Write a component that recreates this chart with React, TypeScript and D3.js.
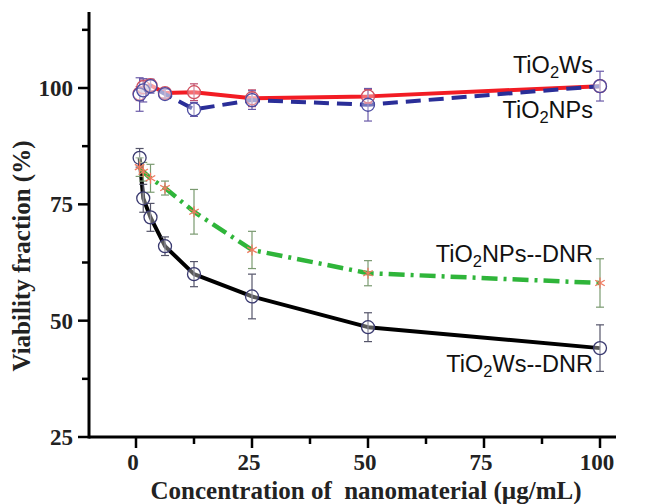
import React from "react";
import * as d3 from "d3";

const conc = [0.78, 1.56, 3.125, 6.25, 12.5, 25, 50, 100];

const wsVals = [98.8, 100.2, 100.6, 98.9, 99.1, 97.8, 98.2, 100.4];
const wsErr = [1.5, 1.5, 1.2, 1.0, 1.8, 1.8, 1.5, 1.2];

const npsVals = [98.6, 99.5, 100.4, 98.7, 95.4, 97.4, 96.4, 100.4];
const npsErr = [3.6, 2.5, 1.5, 1.0, 1.5, 2.0, 3.5, 3.2];

const npsDnrVals = [83.0, 82.0, 80.6, 78.5, 73.4, 65.2, 60.2, 58.1];
const npsDnrErr = [2.0, 2.0, 3.0, 1.5, 4.8, 4.0, 2.7, 5.2];

const wsDnrVals = [85.0, 76.3, 72.2, 66.0, 60.0, 55.2, 48.6, 44.1];
const wsDnrErr = [2.0, 3.0, 3.0, 2.0, 2.7, 4.8, 3.1, 5.0];

const xTicks = [0, 25, 50, 75, 100];
const xMinor = [12.5, 37.5, 62.5, 87.5];
const yTicks = [25, 50, 75, 100];
const yMinor = [37.5, 62.5, 87.5, 112.5];

const xTitle = "Concentration of  nanomaterial (\u00b5g/mL)";
const yTitle = "Viability fraction (%)";

export default function App() {
  const x = d3.scaleLinear().domain([0, 100]).range([136, 600]);
  const y = d3.scaleLinear().domain([25, 100]).range([437, 88]);
  const axisX0 = 89;
  const axisXEnd = 616;
  const axisYTop = 12;
  const axisY0 = 437;

  const line = d3
    .line<number>()
    .x((_, i) => x(conc[i]))
    .y((d) => y(d))
    .curve(d3.curveLinear);

  const serif = "'Liberation Serif', 'Times New Roman', serif";
  const sans = "'Liberation Sans', Arial, sans-serif";

  const errBars = (vals: number[], errs: number[], color: string, key: string) =>
    vals.map((v, i) => {
      const cx = x(conc[i]);
      const y1 = y(v - errs[i]);
      const y2 = y(v + errs[i]);
      return (
        <g key={key + i} stroke={color} strokeWidth={1.2}>
          <line x1={cx} x2={cx} y1={y1} y2={y2} />
          <line x1={cx - 4} x2={cx + 4} y1={y1} y2={y1} />
          <line x1={cx - 4} x2={cx + 4} y1={y2} y2={y2} />
        </g>
      );
    });

  const circles = (vals: number[], color: string, key: string) =>
    vals.map((v, i) => (
      <circle
        key={key + i}
        cx={x(conc[i])}
        cy={y(v)}
        r={6.5}
        fill="rgba(255,255,255,0.35)"
        stroke={color}
        strokeWidth={1.3}
      />
    ));

  const stars = (vals: number[], color: string, key: string) =>
    vals.map((v, i) => {
      const cx = x(conc[i]);
      const cy = y(v);
      const r = 5.5;
      return (
        <g key={key + i} stroke={color} strokeWidth={1.3}>
          {[0, 60, 120].map((a) => {
            const rad = (a * Math.PI) / 180 + Math.PI / 2;
            return (
              <line
                key={a}
                x1={cx - r * Math.cos(rad)}
                y1={cy - r * Math.sin(rad)}
                x2={cx + r * Math.cos(rad)}
                y2={cy + r * Math.sin(rad)}
              />
            );
          })}
        </g>
      );
    });

  const label = (name: string, rest: string, xr: number, yb: number) => (
    <text x={xr} y={yb} textAnchor="end" fontFamily={sans} fontSize={23.5} fill="#111">
      {"TiO"}
      <tspan fontSize={16.5} dy={5}>2</tspan>
      <tspan dy={-5}>{name + rest}</tspan>
    </text>
  );

  return (
    <svg
      width={647}
      height={504}
      style={{ position: "absolute", left: 0, top: 0, background: "#fff" }}
    >
      <rect x={0} y={0} width={647} height={504} fill="#fff" />

      {/* Lines */}
      <path d={line(wsDnrVals) || ""} fill="none" stroke="#000" strokeWidth={4} strokeLinejoin="round" />
      <path
        d={line(npsDnrVals) || ""}
        fill="none"
        stroke="#2fb53a"
        strokeWidth={4.5}
        strokeDasharray="16 6 3 6"
        strokeLinejoin="round"
      />
      <path d={line(wsVals) || ""} fill="none" stroke="#f21c24" strokeWidth={4} strokeLinejoin="round" />
      <path
        d={line(npsVals) || ""}
        fill="none"
        stroke="#2a2e98"
        strokeWidth={4}
        strokeDasharray="15 8"
        strokeLinejoin="round"
      />

      {/* Error bars */}
      {errBars(wsDnrVals, wsDnrErr, "#55556a", "ebk")}
      {errBars(npsDnrVals, npsDnrErr, "#7a9a70", "egr")}
      {errBars(wsVals, wsErr, "#c05070", "erd")}
      {errBars(npsVals, npsErr, "#6a5aa8", "ebl")}

      {/* Markers */}
      {circles(wsDnrVals, "#3a3a70", "cbk")}
      {stars(npsDnrVals, "#f07a60", "sgr")}
      {circles(wsVals, "#d05060", "crd")}
      {circles(npsVals, "#4a4aa0", "cbl")}

      {/* Axes */}
      <line x1={axisX0} x2={axisXEnd} y1={axisY0} y2={axisY0} stroke="#000" strokeWidth={3} />
      <line x1={axisX0} x2={axisX0} y1={axisYTop} y2={axisY0 + 1.5} stroke="#000" strokeWidth={3} />

      {xTicks.map((t) => (
        <g key={"xt" + t}>
          <line x1={x(t)} x2={x(t)} y1={axisY0} y2={axisY0 + 11} stroke="#000" strokeWidth={2.5} />
          <text
            x={x(t) - 3}
            y={470}
            textAnchor="middle"
            fontFamily={serif}
            fontWeight="bold"
            fontSize={23}
            fill="#222"
          >
            {t}
          </text>
        </g>
      ))}
      {xMinor.map((t) => (
        <line key={"xm" + t} x1={x(t)} x2={x(t)} y1={axisY0} y2={axisY0 + 7} stroke="#000" strokeWidth={2.5} />
      ))}
      {yTicks.map((t) => (
        <g key={"yt" + t}>
          <line x1={axisX0 - 11} x2={axisX0} y1={y(t)} y2={y(t)} stroke="#000" strokeWidth={2.5} />
          <text
            x={73}
            y={y(t) + 8}
            textAnchor="end"
            fontFamily={serif}
            fontWeight="bold"
            fontSize={23}
            fill="#222"
          >
            {t}
          </text>
        </g>
      ))}
      {yMinor.map((t) => (
        <line key={"ym" + t} x1={axisX0 - 7} x2={axisX0} y1={y(t)} y2={y(t)} stroke="#000" strokeWidth={2.5} />
      ))}

      <text
        x={366}
        y={499}
        textAnchor="middle"
        fontFamily={serif}
        fontWeight="bold"
        fontSize={25}
        fill="#222"
        style={{ whiteSpace: "pre" }}
      >
        {xTitle}
      </text>
      <text
        transform={`translate(30,256) rotate(-90)`}
        textAnchor="middle"
        fontFamily={serif}
        fontWeight="bold"
        fontSize={25}
        fill="#222"
      >
        {yTitle}
      </text>

      {/* Series labels */}
      {label("Ws", "", 593, 73)}
      {label("NPs", "", 593, 118)}
      {label("NPs", "--DNR", 593, 262)}
      {label("Ws", "--DNR", 593, 372)}
    </svg>
  );
}
